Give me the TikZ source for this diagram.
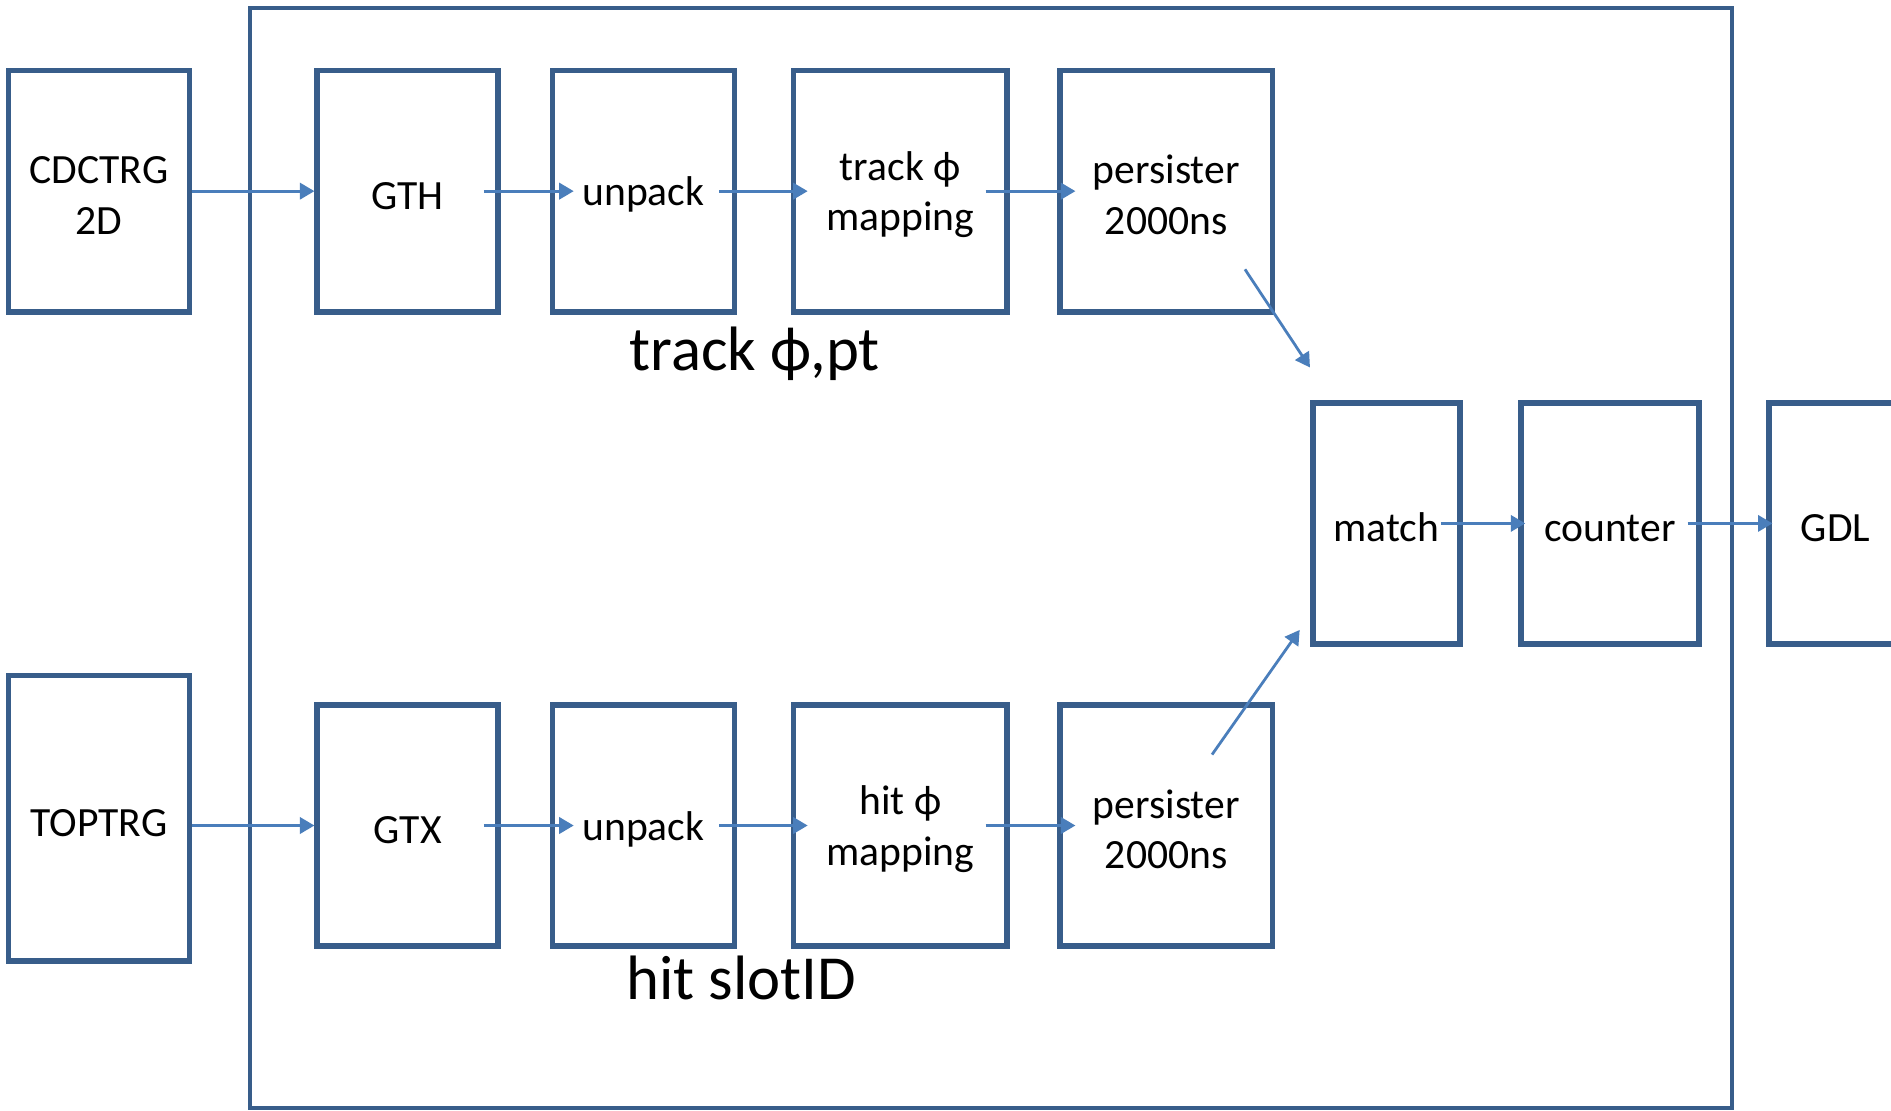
\documentclass[tikz,border=0pt]{standalone}
\usepackage{fontspec}
\setmainfont{Carlito}
\usetikzlibrary{arrows.meta,calc}
\definecolor{boxblue}{HTML}{385D8A}
\definecolor{arrowblue}{HTML}{4A7EBB}
% strut that lowers the text slightly inside its box
\newcommand{\toplift}{\rule{0pt}{30pt}}
\begin{document}
\begin{tikzpicture}[x=1pt,y=-1pt,
  blk/.style={draw=boxblue, line width=4.6pt, minimum height=200pt, align=center,
    font=\fontsize{34.5}{42}\selectfont, inner sep=0pt},
  flow/.style={draw=arrowblue, line width=2.3pt, -{Triangle[length=12pt,width=13.5pt]}},
  big/.style={font=\fontsize{52}{60}\selectfont, inner sep=0pt}]
\useasboundingbox (0,0) rectangle (1568,921);
\clip (0,0) rectangle (1568,921);
\fill[white] (0,0) rectangle (1568,921);

% enclosing frame
\node[draw=boxblue, line width=3.4pt, minimum width=1229pt, minimum height=912pt, inner sep=0pt]
  (frame) at (821.5,463) {};

% inputs
\node[blk, minimum width=150pt] (cdc) at (82,158.5) {\toplift CDCTRG\\2D};
\node[blk, minimum width=150pt, minimum height=237pt] (top) at (82,678.5) {\toplift TOPTRG};

% track chain
\node[blk, minimum width=150pt] (gth)  at (338,158.5)   {\toplift GTH};
\node[blk, minimum width=151pt] (unp1) at (533.5,158.5) {\toplift unpack};
\node[blk, minimum width=177pt] (trk)  at (746.5,158.5) {\toplift track ϕ\\mapping};
\node[blk, minimum width=176pt] (per1) at (967,158.5)   {\toplift persister\\2000ns};

% hit chain
\node[blk, minimum width=150pt] (gtx)  at (338,684.5)   {\toplift GTX};
\node[blk, minimum width=151pt] (unp2) at (533.5,684.5) {\toplift unpack};
\node[blk, minimum width=177pt] (hit)  at (746.5,684.5) {\toplift hit ϕ\\mapping};
\node[blk, minimum width=176pt] (per2) at (967,684.5)   {\toplift persister\\2000ns};

% matching and output
\node[blk, minimum width=122pt] (match)   at (1149.5,434) {\toplift match};
\node[blk, minimum width=148pt] (counter) at (1335,434)   {\toplift counter};
\node[blk, minimum width=110pt] (gdl)     at (1522,434)   {\toplift GDL};

% row labels
\node[big, anchor=base west] (lbltrk) at (522,307) {track ϕ,pt};
\node[big, anchor=base west] (lblhit) at (519,829) {hit slotID};

% track flow
\draw[flow] (cdc.east) -- (gth.west);
\draw[flow] ($(gth.east)+(-14,0)$) -- ($(unp1.west)+(20,0)$);
\draw[flow] ($(unp1.east)+(-15,0)$) -- ($(trk.west)+(14,0)$);
\draw[flow] ($(trk.east)+(-20,0)$) -- ($(per1.west)+(15,0)$);

% hit flow
\draw[flow] (top.east |- gtx.west) -- (gtx.west);
\draw[flow] ($(gtx.east)+(-14,0)$) -- ($(unp2.west)+(20,0)$);
\draw[flow] ($(unp2.east)+(-15,0)$) -- ($(hit.west)+(14,0)$);
\draw[flow] ($(hit.east)+(-20,0)$) -- ($(per2.west)+(15,0)$);

% into the matcher
\draw[flow] ($(per1.south east)+(-25,-37.5)$) -- ($(match.north west)+(0,-27)$);
\draw[flow] ($(per2.north)+(38,43.5)$) -- ($(match.south west)+(-8.5,-14)$);

% output
\draw[flow] ($(match.east)+(-18,0)$) -- ($(counter.west)+(6,0)$);
\draw[flow] ($(counter.east)+(-12,0)$) -- ($(gdl.west)+(5,0)$);
\end{tikzpicture}
\end{document}
